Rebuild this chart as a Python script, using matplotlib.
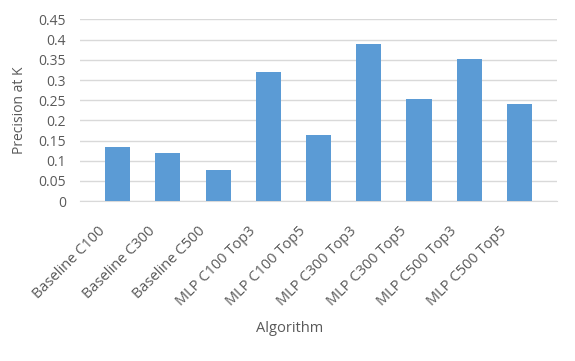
import matplotlib
matplotlib.use("Agg")
import matplotlib.pyplot as plt
from matplotlib.transforms import ScaledTranslation

# precision at K per algorithm
algorithms = ["Baseline C100", "Baseline C300", "Baseline C500",
              "MLP C100 Top3", "MLP C100 Top5", "MLP C300 Top3",
              "MLP C300 Top5", "MLP C500 Top3", "MLP C500 Top5"]
precision = [0.135, 0.12, 0.078, 0.32, 0.164, 0.39, 0.254, 0.351, 0.24]
yticks = [0, 0.05, 0.1, 0.15, 0.2, 0.25, 0.3, 0.35, 0.4, 0.45]
ytick_labels = ["0", "0.05", "0.1", "0.15", "0.2", "0.25", "0.3", "0.35", "0.4", "0.45"]

text_color = "#595959"
plt.rcParams["font.family"] = ["Open Sans", "DejaVu Sans"]

fig = plt.figure(figsize=(5.75, 3.61), dpi=100)
ax = fig.add_axes([0.139, 0.443, 0.830, 0.503])

x = range(len(algorithms))
ax.bar(x, precision, width=0.5, color="#5b9bd5", zorder=3)

ax.set_ylim(0, 0.45)
ax.set_xlim(-0.75, len(algorithms) - 0.25)
ax.set_yticks(yticks)
ax.set_yticklabels(ytick_labels)
ax.set_xticks(list(x))
ax.set_xticklabels(algorithms, rotation=45, ha="right", rotation_mode="anchor")
ax.tick_params(axis="y", length=0, colors=text_color, labelsize=10, pad=10)
ax.tick_params(axis="x", length=0, colors=text_color, labelsize=10.5, pad=16)

# nudge rotated labels left so they end just under the bars
shift = ScaledTranslation(-0.2, 0, fig.dpi_scale_trans)
for lbl in ax.get_xticklabels():
    lbl.set_transform(lbl.get_transform() + shift)

ax.grid(axis="y", color="#d9d9d9", linewidth=1, zorder=0)
for s in ["top", "right", "left"]:
    ax.spines[s].set_visible(False)
ax.spines["bottom"].set_color("#d9d9d9")

ax.set_ylabel("Precision at K", color=text_color, fontsize=10, labelpad=8)
ax.set_xlabel("Algorithm", color=text_color, fontsize=10.5)
ax.xaxis.set_label_coords(0.44, -0.66)

fig.savefig("out.png", dpi=100)
